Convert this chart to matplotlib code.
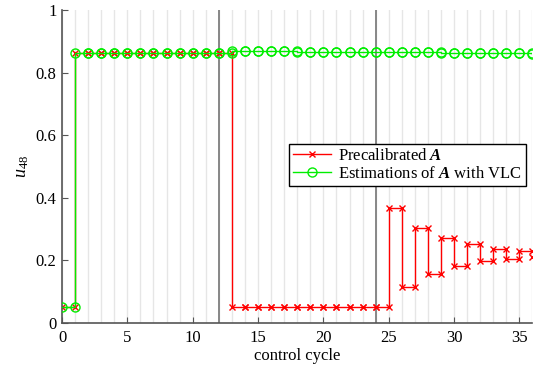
import numpy as np
import matplotlib
matplotlib.use("Agg")
import matplotlib.pyplot as plt

plt.rcParams['font.family'] = ['Liberation Serif', 'DejaVu Serif']
plt.rcParams['mathtext.fontset'] = 'custom'
plt.rcParams['mathtext.rm'] = 'Liberation Serif'
plt.rcParams['mathtext.it'] = 'Liberation Serif:italic'
plt.rcParams['mathtext.bf'] = 'Liberation Serif:bold:italic'

# control input u_48 held over each control cycle k (value on [k, k+1])
cycles = np.arange(0, 37)
u_precal = [0.05] + [0.862] * 12 + [0.05] * 12 + [
    0.367, 0.113, 0.304, 0.155, 0.270, 0.181, 0.251, 0.197,
    0.237, 0.204, 0.228, 0.209]
u_vlc = [0.05] + [0.862] * 12 + [
    0.871, 0.870, 0.870, 0.869, 0.869, 0.868, 0.868, 0.868,
    0.867, 0.867, 0.867, 0.866, 0.866, 0.865, 0.865, 0.865,
    0.864, 0.864, 0.863, 0.863, 0.863, 0.862, 0.862, 0.861]
recalib_cycles = [12, 24]

xticks = [0, 5, 10, 15, 20, 25, 30, 35]
yticks = [0, 0.2, 0.4, 0.6, 0.8, 1]
yticklabels = ['0', '0.2', '0.4', '0.6', '0.8', '1']


def hold_path(k, v):
    """Zero-order-hold path with a vertex at both ends of each interval."""
    k = np.asarray(k, dtype=float)
    v = np.asarray(v, dtype=float)
    xs = np.column_stack([k, k + 1]).ravel()
    ys = np.repeat(v, 2)
    return xs, ys


fig = plt.figure(figsize=(5.42, 3.68), dpi=100)
ax = fig.add_axes([0.1144, 0.1231, 0.868, 0.849])

for c in cycles:
    ax.axvline(c, color='#e6e6e6', lw=1.0, zorder=0)
for c in recalib_cycles:
    ax.axvline(c, color='#7f7f7f', lw=1.3, zorder=1)

xg, yg = hold_path(cycles, u_vlc)
xr, yr = hold_path(cycles, u_precal)
ax.plot(xr, yr, color='#ff0000', lw=1.0, marker='x', ms=4.5, mew=1.0,
        label=r'Precalibrated $\mathbf{A}$', zorder=2)
ax.plot(xg, yg, color='#00ee00', lw=1.0, marker='o', ms=6.5, mew=1.0,
        mfc='none', label=r'Estimations of $\mathbf{A}$ with VLC', zorder=3)

ax.set_xlim(0, 36)
ax.set_ylim(0, 1)
ax.set_xticks(xticks)
ax.set_yticks(yticks)
ax.set_yticklabels(yticklabels)
ax.tick_params(direction='in', length=4, width=0.8, color='#555555',
               labelsize=12)
ax.tick_params(axis='x', pad=5)
ax.tick_params(axis='y', pad=4)
for s in ['top', 'right']:
    ax.spines[s].set_visible(False)
for s in ['left', 'bottom']:
    ax.spines[s].set_color('#555555')
    ax.spines[s].set_linewidth(1.2)

ax.set_xlabel('control cycle', fontsize=12, labelpad=2)
ax.set_ylabel(r'$u_{48}$', fontsize=13)
ax.yaxis.set_label_coords(-0.066, 0.5)

handles, labels = ax.get_legend_handles_labels()
leg = fig.legend(handles, labels, loc='upper right',
                 bbox_to_anchor=(0.9705, 0.6087), fontsize=12,
                 numpoints=1, fancybox=False, framealpha=1,
                 edgecolor='black', borderpad=0.25, handlelength=2.3,
                 labelspacing=0.1, handletextpad=0.4, borderaxespad=0)
leg.get_frame().set_linewidth(1.0)

fig.savefig('out.png', dpi=100)
